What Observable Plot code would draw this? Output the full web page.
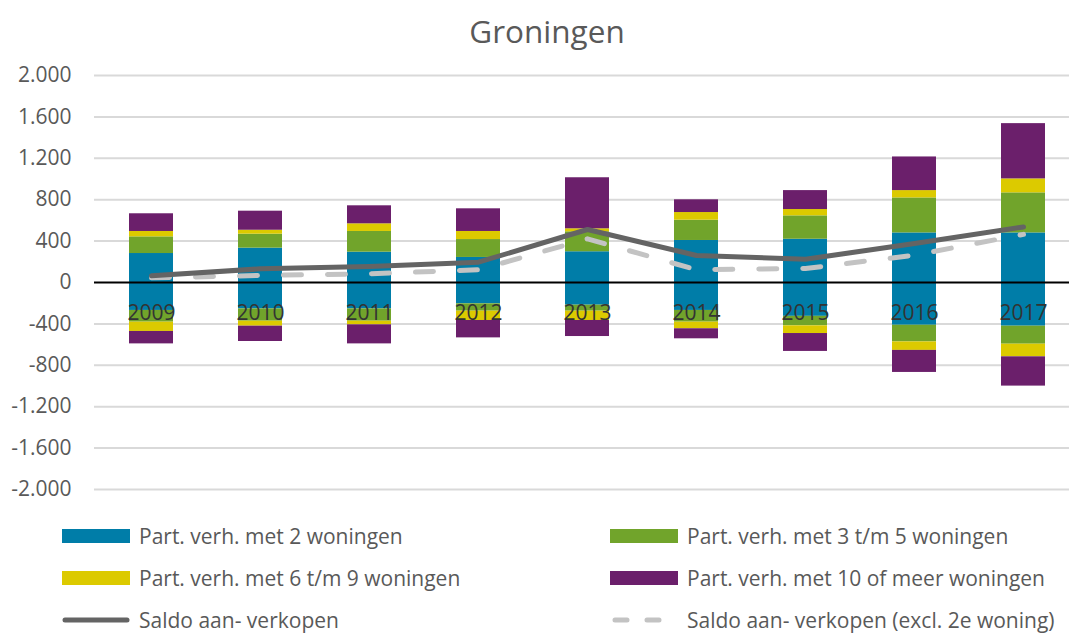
<!DOCTYPE html>
<html><head><meta charset="utf-8">
<script src="https://cdn.jsdelivr.net/npm/d3@7"></script>
<script src="https://cdn.jsdelivr.net/npm/@observablehq/plot@0.6"></script>
<style>
body{margin:0;background:#fff;font-family:"Open Sans",sans-serif;}
#wrap{position:relative;width:1069px;height:633px;overflow:hidden;background:#fff;}
#title{position:absolute;left:0;top:11px;width:1094px;text-align:center;font-size:31.5px;line-height:40px;color:#595959;}
#chart{position:absolute;left:0;top:55px;}
.li{position:absolute;height:26px;display:flex;align-items:center;font-size:21px;color:#595959;white-space:nowrap;}
.li svg{margin-right:9px;}
</style></head>
<body><div id="wrap"><div id="title">Groningen</div><div id="chart"></div><div id="legend"></div></div>
<script>
const years = ["2009","2010","2011","2012","2013","2014","2015","2016","2017"];
const seriesNames = ["Part. verh. met 2 woningen","Part. verh. met 3 t/m 5 woningen","Part. verh. met 6 t/m 9 woningen","Part. verh. met 10 of meer woningen"];
const seriesColors = ["#007DA8","#71A42B","#DCCA00","#6B1F6B"];
// positive parts (aankopen)
const pos2 = [280, 332, 293, 242, 297, 406, 418, 479, 479];
const pos3to5 = [161, 135, 200, 173, 193, 196, 226, 338, 387];
const pos6to9 = [52, 38, 74, 78, 29, 74, 61, 71, 135];
const pos10plus = [171, 184, 174, 219, 493, 123, 183, 325, 534];
// negative parts (verkopen)
const neg2 = [-270, -255, -255, -206, -219, -270, -327, -413, -422];
const neg3to5 = [-113, -119, -119, -71, -58, -113, -92, -161, -174];
const neg6to9 = [-90, -48, -35, -90, -90, -64, -74, -82, -122];
const neg10plus = [-120, -148, -184, -168, -155, -97, -173, -213, -283];
// lines
const saldo = [65, 132, 155, 196, 512, 261, 225, 376, 537];
const saldoExcl = [45, 68, 84, 123, 422, 123, 135, 264, 465];
const lineNames = ["Saldo aan- verkopen","Saldo aan- verkopen (excl. 2e woning)"];
const yTicks = [-2000,-1600,-1200,-800,-400,0,400,800,1200,1600,2000];

const posArr = [pos2,pos3to5,pos6to9,pos10plus];
const negArr = [neg2,neg3to5,neg6to9,neg10plus];
const rows = [];
years.forEach((yr,i)=>{
  seriesNames.forEach((s,k)=>{
    rows.push({year:yr, series:s, value:posArr[k][i]});
    rows.push({year:yr, series:s, value:negArr[k][i]});
  });
});
const lineRows1 = years.map((yr,i)=>({year:yr, v:saldo[i]}));
const lineRows2 = years.map((yr,i)=>({year:yr, v:saldoExcl[i]}));
const nl = d3.formatLocale({decimal:",", thousands:".", grouping:[3], currency:["€",""], minus:"-"});
const fmt = nl.format(",d");

const chart = Plot.plot({
  width:1069, height:454,
  marginTop:20, marginBottom:20, marginLeft:94, marginRight:0,
  style:{fontFamily:"'Open Sans', sans-serif", fontSize:"21px", background:"white", color:"#595959"},
  x:{domain:years, range:[93.3,1080.8], paddingInner:0.6, paddingOuter:0.3, align:0.5, axis:null},
  y:{domain:[-2000,2000], axis:null},
  color:{domain:seriesNames, range:seriesColors},
  marks:[
    Plot.ruleY(yTicks.filter(t=>t!==0), {stroke:"#d9d9d9", strokeWidth:2}),
    Plot.axisY({ticks:yTicks, tickFormat:fmt, tickSize:0, tickPadding:23, fontSize:21, color:"#595959", label:null}),
    Plot.barY(rows, {x:"year", y:"value", fill:"series", order:null}),
    Plot.ruleY([0], {stroke:"#000", strokeWidth:2}),
    Plot.text(years, {x:d=>d, y:0, dy:31, fontSize:21, fill:"#333"}),
    Plot.line(lineRows2, {x:"year", y:"v", stroke:"#c3c3c3", strokeWidth:5, strokeDasharray:"18,26", strokeLinecap:"round", strokeLinejoin:"round"}),
    Plot.line(lineRows1, {x:"year", y:"v", stroke:"#646464", strokeWidth:5, strokeLinecap:"round", strokeLinejoin:"round"})
  ]
});
document.getElementById("chart").appendChild(chart);

// legend
const legend = document.getElementById("legend");
const items = [
  {label:seriesNames[0], type:"rect", color:seriesColors[0], x:62, y:536},
  {label:seriesNames[1], type:"rect", color:seriesColors[1], x:610, y:536},
  {label:seriesNames[2], type:"rect", color:seriesColors[2], x:62, y:578},
  {label:seriesNames[3], type:"rect", color:seriesColors[3], x:610, y:578},
  {label:lineNames[0], type:"solid", color:"#646464", x:62, y:620},
  {label:lineNames[1], type:"dash", color:"#c3c3c3", x:610, y:620}
];
items.forEach(it=>{
  const d = document.createElement("div");
  d.className = "li";
  d.style.left = it.x + "px";
  d.style.top = (it.y - 13) + "px";
  let sw;
  if (it.type === "rect") sw = `<svg width="68" height="14"><rect x="0" y="0" width="68" height="14" fill="${it.color}"/></svg>`;
  else if (it.type === "solid") sw = `<svg width="68" height="14"><line x1="3" x2="65" y1="7" y2="7" stroke="${it.color}" stroke-width="5" stroke-linecap="round"/></svg>`;
  else sw = `<svg width="68" height="14"><line x1="5" x2="65" y1="7" y2="7" stroke="${it.color}" stroke-width="5" stroke-linecap="round" stroke-dasharray="12,20"/></svg>`;
  d.innerHTML = sw + `<span>${it.label}</span>`;
  legend.appendChild(d);
});
</script></body></html>
